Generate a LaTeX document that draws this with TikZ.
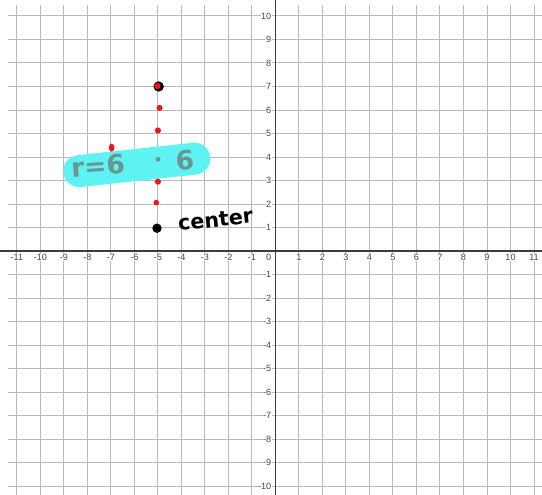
\documentclass[tikz,border=0pt]{standalone}
\usepackage{fontspec}
\setmainfont{Liberation Sans}
\newfontfamily\markerfont{DejaVu Sans}
\usepackage{tikz}
\definecolor{gridgray}{RGB}{185,185,185}
\definecolor{axisgray}{RGB}{60,60,60}
\definecolor{ticktext}{RGB}{70,70,70}
\definecolor{highlight}{RGB}{95,242,242}
\definecolor{markgray}{RGB}{105,150,145}
\definecolor{dotred}{RGB}{240,20,20}

\begin{document}
\begin{tikzpicture}[
    gridline/.style={gridgray,line width=1.2pt},
    axisline/.style={axisgray,line width=1.4pt},
    ticklabel/.style={fill=white,inner sep=0.6pt,text=ticktext,font=\fontsize{11}{12}\selectfont},
    reddot/.style={fill=dotred},
    marker/.style={font=\markerfont\bfseries}
  ]
                \useasboundingbox (-11.72,-10.38) rectangle (11.34,10.68);
                \fill [white] (-11.72,-10.38) rectangle (11.34,10.68);
                % grid
                \foreach \x in {-11,...,11}
                    \draw [gridline] (\x,-10.38) -- (\x,10.45);
                \foreach \y in {-10,...,10}
                    \draw [gridline] (-11.38,\y) -- (11.34,\y);
                \draw [axisline] (-11.72,0) -- (11.34,0);
                \draw [axisline] (0,-10.38) -- (0,10.68);
                % tick labels
                \foreach \x in {-11,...,-1,1,2,...,11}
                    \node [ticklabel] (xl\x) at (\x,-0.27) {\x};
                \foreach \y in {-10,...,-1,1,2,...,10}
                    \node [ticklabel,anchor=east] (yl\y) at (-0.15,\y) {\y};
                \node [ticklabel,anchor=east] (yl0) at (-0.15,-0.27) {0};
                % radius highlight
                \draw [highlight,line width=1.36cm,line cap=round] (-8.35,3.4)--(-3.45,3.93);
                \node [marker,text=markgray,font=\markerfont\bfseries\fontsize{32}{34}\selectfont,rotate=4] (rlabel) at (-7.55,3.62) {r=6};
                \node [marker,text=markgray,font=\markerfont\bfseries\fontsize{32}{34}\selectfont,rotate=4] (rvalue) at (-3.85,3.86) {6};
                \fill [markgray] (-5,3.9) circle (0.1);
                % points
                \fill [black] (-4.97,7) circle (0.22);
                \fill [reddot] (-5.02,7.02) circle (0.13);
                \fill [reddot] (-4.93,6.09) circle (0.13);
                \fill [reddot] (-5,5.13) circle (0.13);
                \fill [reddot] (-5,2.95) circle (0.13);
                \fill [reddot] (-5.07,2.06) circle (0.12);
                \fill [reddot] (-6.97,4.4) ellipse (0.12 and 0.17);
                \fill [black] (-5.04,0.97) circle (0.2);
                \node [marker,text=black,font=\markerfont\bfseries\fontsize{25}{27}\selectfont,rotate=6] (centerlabel) at (-2.55,1.33) {center};
            \end{tikzpicture}
\end{document}
